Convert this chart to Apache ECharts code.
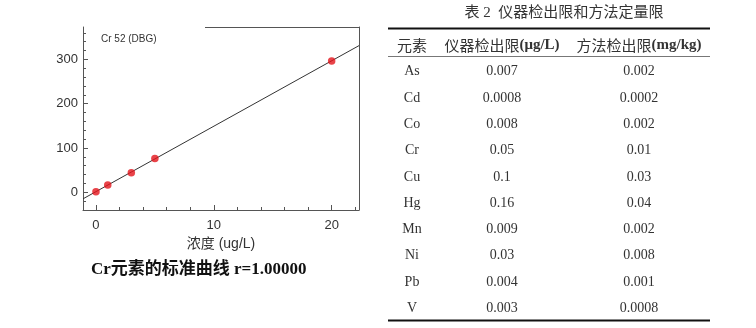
<!DOCTYPE html>
<html>
<head>
<meta charset="utf-8">
<script src="https://cdn.jsdelivr.net/npm/echarts@6/dist/echarts.min.js"></script>
<style>
html,body{margin:0;padding:0;background:#fff;}
#c{width:756px;height:328px;}
</style>
</head>
<body>
<div id="c"></div>
<script>
// ---- calibration data ----
const concX = [0, 1, 3, 5, 20];
const intensityY = [1.4, 16.5, 44, 76.5, 296.5];
const fitX = [-1.1, 22.32];
const fitY = [-14.8, 331];
const xMajorTicks = [0, 10, 20];
const xMinorTicks = [2, 4, 6, 8, 12, 14, 16, 18, 22];
const yMajorTicks = [0, 100, 200, 300];
const yMinorTicks = [-20, 20, 40, 60, 80, 120, 140, 160, 180, 220, 240, 260, 280, 320, 340, 360];
const chartLabel = 'Cr 52 (DBG)';
const xAxisName = '浓度 (ug/L)';
const caption = 'Cr元素的标准曲线 r=1.00000';

// ---- table data ----
const tableTitle = '表 2  仪器检出限和方法定量限';
const headElement = '元素';
const headInstCn = '仪器检出限'; const headInstUnit = '(μg/L)';
const headMethCn = '方法检出限'; const headMethUnit = '(mg/kg)';
const elements = ['As', 'Cd', 'Co', 'Cr', 'Cu', 'Hg', 'Mn', 'Ni', 'Pb', 'V'];
const instLimits = ['0.007', '0.0008', '0.008', '0.05', '0.1', '0.16', '0.009', '0.03', '0.004', '0.003'];
const methodLimits = ['0.002', '0.0002', '0.002', '0.01', '0.03', '0.04', '0.002', '0.008', '0.001', '0.0008'];

const chart = echarts.init(document.getElementById('c'));
const SANS = '"Liberation Sans", Arial, "Noto Sans CJK SC", sans-serif';
const SERIF = '"Liberation Serif", "Times New Roman", "Noto Sans CJK SC", serif';
const axisCol = '#555';
const XMIN = -1.1, XMAX = 22.32, YMIN = -40, YMAX = 373;

// table layout
const colX = [412, 502, 639];
const rowY0 = 71.7, rowStep = 26.3;
const tl = 388, tr = 710;
const graphics = [];
graphics.push({type:'text', style:{text:tableTitle, font:'15px ' + SERIF, fill:'#333', textAlign:'center', textVerticalAlign:'middle', x:564, y:13}});
graphics.push({type:'line', shape:{x1:tl, y1:28.5, x2:tr, y2:28.5}, style:{stroke:'#111', lineWidth:2}});
graphics.push({type:'line', shape:{x1:tl, y1:56.5, x2:tr, y2:56.5}, style:{stroke:'#777', lineWidth:1}});
graphics.push({type:'line', shape:{x1:tl, y1:320.5, x2:tr, y2:320.5}, style:{stroke:'#111', lineWidth:2}});
graphics.push({type:'text', style:{text:headElement, font:'15px "Noto Sans CJK SC"', fill:'#333', textAlign:'center', textVerticalAlign:'middle', x:colX[0], y:45}});
graphics.push({type:'text', style:{text:'{c|' + headInstCn + '}{u|' + headInstUnit + '}', rich:{c:{font:'15px "Noto Sans CJK SC"', fill:'#333'}, u:{font:'bold 15px ' + SERIF, fill:'#333'}}, textAlign:'center', textVerticalAlign:'middle', x:colX[1], y:45}});
graphics.push({type:'text', style:{text:'{c|' + headMethCn + '}{u|' + headMethUnit + '}', rich:{c:{font:'15px "Noto Sans CJK SC"', fill:'#333'}, u:{font:'bold 15px ' + SERIF, fill:'#333'}}, textAlign:'center', textVerticalAlign:'middle', x:colX[2], y:45}});
elements.forEach(function (el, i) {
  const y = rowY0 + i * rowStep;
  [el, instLimits[i], methodLimits[i]].forEach(function (t, j) {
    graphics.push({type:'text', style:{text:t, font:'14px ' + SERIF, fill:'#333', textAlign:'center', textVerticalAlign:'middle', x:colX[j], y:y}});
  });
});
// caption under chart
graphics.push({type:'text', style:{text:caption, font:'bold 17px ' + SERIF, fill:'#111', textAlign:'left', textVerticalAlign:'middle', x:91, y:270}});
// partial top frame line of the plot box
graphics.push({type:'line', shape:{x1:205, y1:27.5, x2:359.5, y2:27.5}, style:{stroke:axisCol, lineWidth:1}});

const baseX = {type:'value', min:XMIN, max:XMAX, gridIndex:0, splitLine:{show:false}};
const baseY = {type:'value', min:YMIN, max:YMAX, gridIndex:0, splitLine:{show:false}};

chart.setOption({
  animation: false,
  title: {text: chartLabel, left: 96, top: 29, textStyle:{fontSize:10, fontWeight:'normal', color:'#333', fontFamily:SANS}},
  grid: {left: 83, top: 27, width: 276, height: 183},
  xAxis: [
    Object.assign({}, baseX, {
      position:'bottom',
      name: xAxisName, nameLocation:'middle', nameGap: 23,
      nameTextStyle:{fontSize:14, color:'#333', fontFamily:SANS},
      axisLine:{show:true, onZero:false, lineStyle:{color:axisCol, width:1}},
      axisTick:{show:true, inside:true, length:5, customValues:xMajorTicks, lineStyle:{color:axisCol}},
      axisLabel:{show:true, customValues:xMajorTicks, margin:9, fontSize:13, color:'#333', fontFamily:SANS}
    }),
    Object.assign({}, baseX, {
      position:'bottom',
      axisLine:{show:false, onZero:false},
      axisTick:{show:true, inside:true, length:3, customValues:xMinorTicks, lineStyle:{color:axisCol}},
      axisLabel:{show:false}
    })
  ],
  yAxis: [
    Object.assign({}, baseY, {
      position:'left',
      axisLine:{show:true, onZero:false, lineStyle:{color:axisCol, width:1}},
      axisTick:{show:true, inside:true, length:5, customValues:yMajorTicks, lineStyle:{color:axisCol}},
      axisLabel:{show:true, customValues:yMajorTicks, margin:5, fontSize:13, color:'#333', fontFamily:SANS}
    }),
    Object.assign({}, baseY, {
      position:'left',
      axisLine:{show:false, onZero:false},
      axisTick:{show:true, inside:true, length:3, customValues:yMinorTicks, lineStyle:{color:axisCol}},
      axisLabel:{show:false}
    }),
    Object.assign({}, baseY, {
      position:'right',
      axisLine:{show:true, onZero:false, lineStyle:{color:axisCol, width:1}},
      axisTick:{show:false},
      axisLabel:{show:false}
    })
  ],
  series: [
    {
      type:'line', xAxisIndex:0, yAxisIndex:0,
      data: fitX.map(function (x, i) { return [x, fitY[i]]; }),
      symbol:'none', lineStyle:{color:'#333', width:1}, silent:true, z:2
    },
    {
      type:'scatter', xAxisIndex:0, yAxisIndex:0,
      data: concX.map(function (x, i) { return [x, intensityY[i]]; }),
      symbolSize:7.5, itemStyle:{color:'#e3141b'}, z:3
    }
  ],
  graphic: graphics
});
</script>
</body>
</html>
